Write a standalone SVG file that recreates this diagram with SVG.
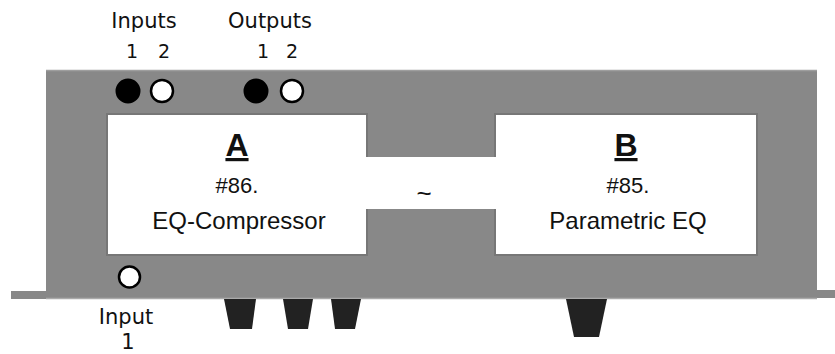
<svg xmlns="http://www.w3.org/2000/svg" width="835" height="354" viewBox="0 0 835 354">
<style>
.lbl{font-family:"DejaVu Sans",sans-serif;font-size:21px;fill:#111;text-anchor:middle}
.num{font-family:"DejaVu Sans",sans-serif;font-size:19px;fill:#111;text-anchor:middle}
.box{fill:#fff;stroke:#777;stroke-width:2}
.t{font-family:"Liberation Sans",Arial,sans-serif;fill:#111;text-anchor:middle}
.title{font-size:32px;font-weight:bold;text-decoration:underline}
.sub{font-size:22px}
.name{font-size:24px}
.tilde{font-size:26px}
.jb{fill:#000;stroke:#000;stroke-width:2}
.jw{fill:#fff;stroke:#000;stroke-width:2.5}
.foot{fill:#222}
</style>
<g id="chassis">
<rect x="11" y="291" width="40" height="8" fill="#888"/>
<rect x="812" y="290" width="23" height="8" fill="#888"/>
<rect x="46" y="70" width="771" height="229" fill="#888"/>
<line x1="46" y1="70.5" x2="817" y2="70.5" stroke="#9e9e9e" stroke-width="1.5"/>
<line x1="46" y1="298.5" x2="817" y2="298.5" stroke="#aaa" stroke-width="1.5"/>
</g>
<g id="feet">
<polygon class="foot" points="224,299 256,299 252,329 230,329"/>
<polygon class="foot" points="283,299 313,299 308,329 288,329"/>
<polygon class="foot" points="331,299 361,299 355,329 335,329"/>
<polygon class="foot" points="566,299 607,299 599,337 574,337"/>
</g>
<g id="nodeA">
<rect class="box" x="107" y="114" width="260" height="141"/>
</g>
<g id="nodeB">
<rect class="box" x="495" y="114" width="262" height="141"/>
</g>
<g id="connectors">
<rect x="366" y="157" width="130" height="52" fill="#fff"/>
<text class="t tilde" x="424" y="202">~</text>
</g>
<g id="labelA">
<text class="t title" x="237" y="156">A</text>
<text class="t sub" x="237" y="193">#86.</text>
<text class="t name" x="239" y="229">EQ-Compressor</text>
</g>
<g id="labelB">
<text class="t title" x="626" y="156">B</text>
<text class="t sub" x="628" y="193">#85.</text>
<text class="t name" x="628" y="229">Parametric EQ</text>
</g>
<g id="inputs">
<text class="lbl" x="144" y="28">Inputs</text>
<text class="num" x="132" y="58">1</text>
<text class="num" x="164" y="58">2</text>
<circle class="jb" cx="128" cy="91" r="11.5"/>
<circle class="jw" cx="162" cy="91" r="11"/>
</g>
<g id="outputs">
<text class="lbl" x="270" y="28">Outputs</text>
<text class="num" x="263" y="58">1</text>
<text class="num" x="292" y="58">2</text>
<circle class="jb" cx="256" cy="91" r="11.5"/>
<circle class="jw" cx="292" cy="91" r="11"/>
</g>
<g id="input1">
<circle class="jw" cx="129.5" cy="277" r="10.5"/>
<text class="lbl" x="126" y="324">Input</text>
<text class="lbl" x="128" y="349">1</text>
</g>
</svg>
